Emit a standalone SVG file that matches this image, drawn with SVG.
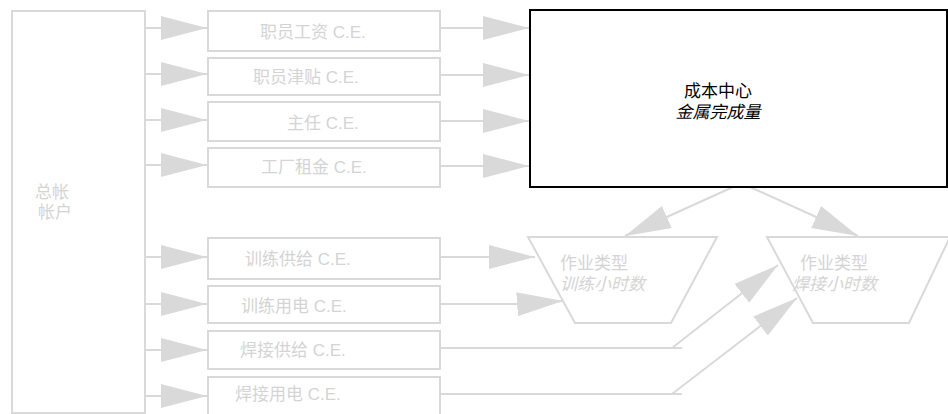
<svg xmlns="http://www.w3.org/2000/svg" width="948" height="414" viewBox="0 0 948 414">
<style>
.g{fill:#fff;stroke:#d9d9d9;stroke-width:2}
.c{fill:none;stroke:#d9d9d9;stroke-width:2}
.t{font-family:"Liberation Sans","Noto Sans CJK SC",sans-serif;font-size:17px;fill:#d4d4d4}
.tm{font-family:"Liberation Sans","Noto Sans CJK SC",sans-serif;font-size:17px;fill:#000}
.i{font-style:italic}
</style>
<defs>
<marker id="ah" viewBox="0 0 46 24" refX="46" refY="12" markerWidth="46" markerHeight="24" markerUnits="userSpaceOnUse" orient="auto">
<path d="M0,0 L46,12 L0,24 Z" fill="#d9d9d9"/>
</marker>
</defs>
<g id="connectors">
<line class="c" x1="145" y1="28" x2="207" y2="28" marker-end="url(#ah)"/>
<line class="c" x1="145" y1="74" x2="207" y2="74" marker-end="url(#ah)"/>
<line class="c" x1="145" y1="120" x2="207" y2="120" marker-end="url(#ah)"/>
<line class="c" x1="145" y1="165" x2="207" y2="165" marker-end="url(#ah)"/>
<line class="c" x1="145" y1="257" x2="207" y2="257" marker-end="url(#ah)"/>
<line class="c" x1="145" y1="304" x2="207" y2="304" marker-end="url(#ah)"/>
<line class="c" x1="145" y1="350" x2="207" y2="350" marker-end="url(#ah)"/>
<line class="c" x1="145" y1="396" x2="207" y2="396" marker-end="url(#ah)"/>
<line class="c" x1="440" y1="28" x2="529" y2="28" marker-end="url(#ah)"/>
<line class="c" x1="440" y1="75" x2="529" y2="75" marker-end="url(#ah)"/>
<line class="c" x1="440" y1="121" x2="529" y2="121" marker-end="url(#ah)"/>
<line class="c" x1="440" y1="166" x2="529" y2="166" marker-end="url(#ah)"/>
<polyline class="c" points="440,257 535,257" marker-end="url(#ah)"/>
<polyline class="c" points="440,304 520,304 563,301" marker-end="url(#ah)"/>
<line class="c" x1="440" y1="348" x2="682" y2="348"/>
<line class="c" x1="672" y1="348" x2="778" y2="265" marker-end="url(#ah)"/>
<line class="c" x1="440" y1="394" x2="682" y2="394"/>
<line class="c" x1="672" y1="394" x2="797" y2="298" marker-end="url(#ah)"/>
<line class="c" x1="733" y1="187" x2="625" y2="236" marker-end="url(#ah)"/>
<line class="c" x1="750" y1="187" x2="858" y2="236" marker-end="url(#ah)"/>
</g>
<g id="ledger">
<rect class="g" x="12" y="11" width="133" height="402"/>
<text class="t" x="35" y="198">总帐</text>
<text class="t" x="38" y="218">帐户</text>
</g>
<g id="ce1"><rect class="g" x="208" y="11" width="232" height="40"/><text class="t" x="260" y="38">职员工资 C.E.</text></g>
<g id="ce2"><rect class="g" x="208" y="58" width="232" height="37"/><text class="t" x="253" y="83">职员津贴 C.E.</text></g>
<g id="ce3"><rect class="g" x="208" y="102" width="232" height="39"/><text class="t" x="287" y="129">主任 C.E.</text></g>
<g id="ce4"><rect class="g" x="208" y="148" width="232" height="39"/><text class="t" x="261" y="173">工厂租金 C.E.</text></g>
<g id="ce5"><rect class="g" x="208" y="238" width="232" height="41"/><text class="t" x="245" y="265">训练供给 C.E.</text></g>
<g id="ce6"><rect class="g" x="208" y="286" width="232" height="37"/><text class="t" x="241" y="312">训练用电 C.E.</text></g>
<g id="ce7"><rect class="g" x="208" y="331" width="232" height="38"/><text class="t" x="240" y="356">焊接供给 C.E.</text></g>
<g id="ce8"><rect class="g" x="208" y="377" width="232" height="40"/><text class="t" x="235" y="400">焊接用电 C.E.</text></g>
<g id="costcenter">
<rect x="530" y="10" width="417" height="177" fill="#fff" stroke="#000" stroke-width="2"/>
<text class="tm" x="718" y="97" text-anchor="middle">成本中心</text>
<text class="tm i" x="718" y="118" text-anchor="middle">金属完成量</text>
</g>
<g id="activity1">
<polygon class="g" points="528,237 717,237 671,323 575,323"/>
<text class="t" x="560" y="269">作业类型</text>
<text class="t i" x="560" y="290">训练小时数</text>
</g>
<g id="activity2">
<polygon class="g" points="767,237 950,237 909,323 813,323"/>
<text class="t" x="800" y="269">作业类型</text>
<text class="t i" x="792" y="290">焊接小时数</text>
</g>
</svg>
